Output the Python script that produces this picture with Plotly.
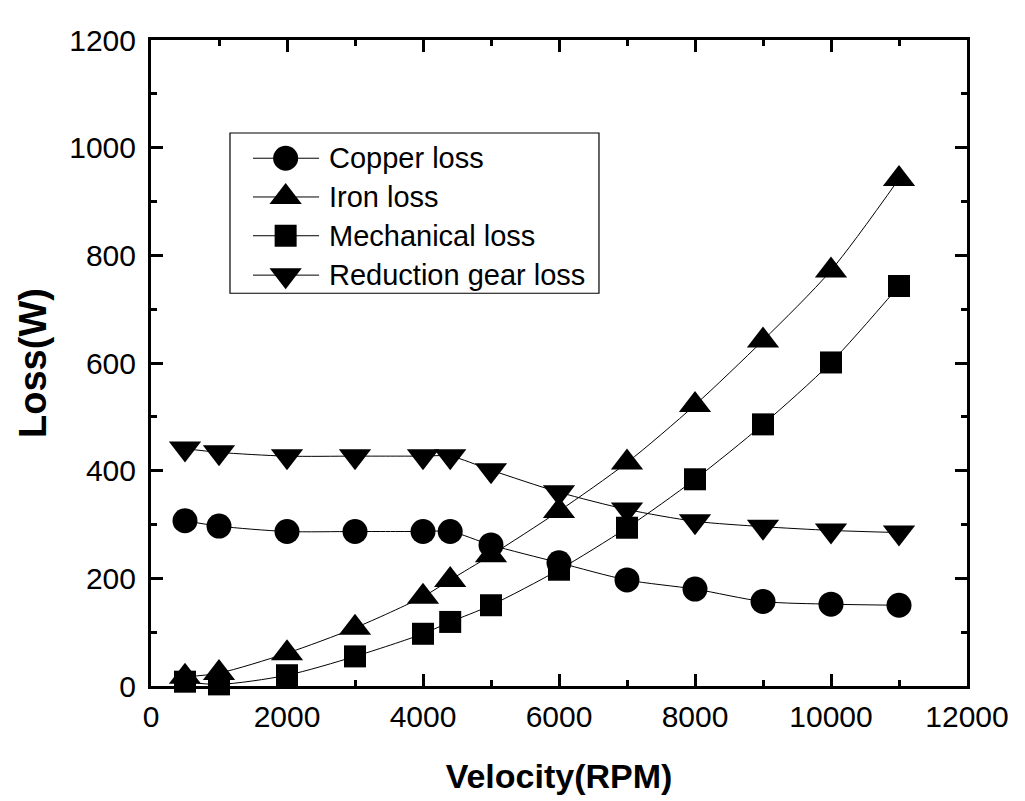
import plotly.graph_objects as go

velocity = [500, 1000, 2000, 3000, 4000, 4400, 5000, 6000, 7000, 8000, 9000, 10000, 11000]
copper_loss = [307, 297, 287, 287, 287, 287, 262, 229, 197, 180, 157, 152, 150]
iron_loss = [17, 24, 61, 108, 166, 197, 243, 325, 415, 522, 642, 772, 942]
mechanical_loss = [8, 3, 20, 55, 97, 119, 150, 216, 294, 384, 486, 601, 743]
gear_loss = [441, 434, 427, 427, 427, 427, 401, 360, 328, 306, 296, 289, 285]

series_names = ["Copper loss", "Iron loss", "Mechanical loss", "Reduction gear loss"]
series_values = [copper_loss, iron_loss, mechanical_loss, gear_loss]
symbols = ["circle", "triangle-up", "square", "triangle-down"]
sizes = [25, 28, 22, 28]

x_ticks = [0, 2000, 4000, 6000, 8000, 10000, 12000]
x_tick_labels = ["0", "2000", "4000", "6000", "8000", "10000", "12000"]
y_ticks = [0, 200, 400, 600, 800, 1000, 1200]
y_tick_labels = ["0", "200", "400", "600", "800", "1000", "1200"]

FONT = "Liberation Sans, Arial, sans-serif"

fig = go.Figure()
for name, vals, sym, sz in zip(series_names, series_values, symbols, sizes):
    fig.add_trace(go.Scatter(
        x=velocity, y=vals, name=name, mode="lines+markers",
        line=dict(color="black", width=1, shape="spline", smoothing=0.8),
        marker=dict(symbol=sym, size=sz, color="black", line=dict(width=0)),
        cliponaxis=False, showlegend=False,
    ))

# custom legend (drawn on an overlay axis in [0,1] units)
row_y = [0.817, 0.757, 0.697, 0.636]
for name, sym, sz, ry in zip(series_names, symbols, sizes, row_y):
    fig.add_trace(go.Scatter(
        x=[0.125, 0.206], y=[ry, ry], mode="lines",
        line=dict(color="black", width=1), xaxis="x2", yaxis="y2",
        showlegend=False, hoverinfo="skip",
    ))
    fig.add_trace(go.Scatter(
        x=[0.165], y=[ry], mode="markers",
        marker=dict(symbol=sym, size=sz, color="black", line=dict(width=0)),
        xaxis="x2", yaxis="y2", showlegend=False, hoverinfo="skip",
    ))
    fig.add_annotation(x=0.216, y=ry, xref="x2", yref="y2", text=name,
                       showarrow=False, xanchor="left", yanchor="middle",
                       font=dict(family=FONT, size=29, color="black"))

fig.add_shape(type="rect", xref="x2", yref="y2", x0=0.0968, x1=0.549,
              y0=0.608, y1=0.856, line=dict(color="black", width=1.2))

axis_common = dict(
    showline=True, linecolor="black", linewidth=3, mirror="allticks",
    ticks="inside", ticklen=12, tickwidth=2.5, tickcolor="black",
    showgrid=False, zeroline=False,
    tickfont=dict(family=FONT, size=30, color="black"),
)

fig.update_layout(
    width=1017, height=793,
    margin=dict(l=143, r=58, t=32, b=115),
    paper_bgcolor="white", plot_bgcolor="white",
    xaxis=dict(range=[0, 12000], tickvals=x_ticks, ticktext=x_tick_labels,
               ticklabelstandoff=2,
               minor=dict(ticks="inside", ticklen=6, dtick=1000, tickwidth=2.5, tickcolor="black"),
               title=dict(text="<b>Velocity(RPM)</b>", standoff=33,
                          font=dict(family=FONT, size=34, color="black")),
               **axis_common),
    yaxis=dict(range=[0, 1200], tickvals=y_ticks, ticktext=y_tick_labels,
               ticklabelstandoff=6,
               minor=dict(ticks="inside", ticklen=6, dtick=100, tickwidth=2.5, tickcolor="black"),
               title=dict(text="<b>Loss(W)</b>", standoff=11,
                          font=dict(family=FONT, size=38, color="black")),
               **axis_common),
    xaxis2=dict(range=[0, 1], domain=[0, 1], visible=False, overlaying="x", anchor="y2"),
    yaxis2=dict(range=[0, 1], domain=[0, 1], visible=False, overlaying="y", anchor="x2"),
    showlegend=False,
)

fig.write_html("out.html")
